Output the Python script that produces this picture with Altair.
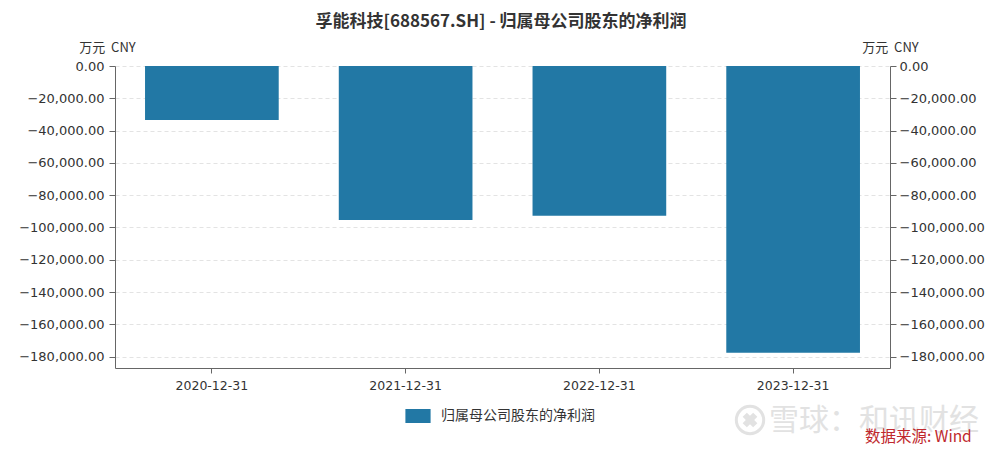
import altair as alt
import pandas as pd

dates = ["2020-12-31", "2021-12-31", "2022-12-31", "2023-12-31"]
values = [-33400, -95300, -92800, -177500]
series_name = "归属母公司股东的净利润"
title_text = "孚能科技[688567.SH] - 归属母公司股东的净利润"
unit_text = "万元\u00a0\u00a0CNY"
tick_values = [0, -20000, -40000, -60000, -80000, -100000, -120000, -140000, -160000, -180000]
watermark_text = "雪球：和讯财经"
source_text = "数据来源: Wind"

df = pd.DataFrame({"date": dates, "value": values, "series": [series_name] * len(dates)})

CJK = "Noto Sans CJK SC"
NUM = "DejaVu Sans"
ydomain = [-187000, 0]
yscale = alt.Scale(domain=ydomain, nice=False, zero=False)

xenc = alt.X("date:N", sort=dates, scale=alt.Scale(paddingInner=0.31, paddingOuter=0.155),
             axis=alt.Axis(title=None, labelAngle=0, labelFontSize=12.5, labelColor="#333",
                           labelFont=NUM, domainColor="#666", tickColor="#666", tickSize=5,
                           labelPadding=6, grid=False))

common_y = dict(titleAngle=0, titleY=-12, titleAlign="center", titleBaseline="bottom", titleFont=CJK,
                titleFontSize=13, titleFontWeight="normal", titleColor="#333", values=tick_values,
                format=",.2f", labelFontSize=13, labelColor="#333", labelFont=NUM,
                domainColor="#666", tickColor="#666", tickSize=6)

bars = alt.Chart(df).mark_bar(color="#2278a5").encode(
    x=xenc,
    y=alt.Y("value:Q", scale=yscale,
            axis=alt.Axis(title=unit_text, titleX=-8, grid=True, gridDash=[4, 3], gridColor="#e3e3e3",
                          labelPadding=5, **common_y)),
    color=alt.Color("series:N", scale=alt.Scale(range=["#2278a5"]),
                    legend=alt.Legend(title=None, orient="none", legendX=296, legendY=343,
                                      symbolType="M-1.8,-1H1.8V1H-1.8Z", symbolSize=196,
                                      labelOffset=16, labelFontSize=14, labelFont=CJK, labelColor="#333",
                                      symbolStrokeWidth=0)),
)

right = alt.Chart(df).mark_bar(opacity=0).encode(
    x=alt.X("date:N", sort=dates),
    y=alt.Y("value:Q", scale=yscale,
            axis=alt.Axis(orient="right", title=unit_text, titleX=0, grid=False, labelPadding=3,
                          **common_y)),
)

title = alt.Chart(pd.DataFrame({"t": [title_text]})).mark_text(
    font=CJK, fontSize=17, fontWeight="bold", color="#333", align="center", baseline="middle").encode(
    x=alt.value(386), y=alt.value(-44), text="t:N")

logo_ring = alt.Chart(pd.DataFrame({"k": [1]})).mark_point(
    shape="circle", size=750, filled=False, strokeWidth=3, color="#e2e2e2", opacity=1).encode(
    x=alt.value(635), y=alt.value(354))
logo_x = alt.Chart(pd.DataFrame({"k": [1]})).mark_point(
    shape="cross", size=220, filled=True, color="#e2e2e2", opacity=1, angle=45).encode(
    x=alt.value(635), y=alt.value(354))

wm = alt.Chart(pd.DataFrame({"t": [watermark_text]})).mark_text(
    font=CJK, fontSize=30, color="#e2e2e2", align="left", baseline="middle").encode(
    x=alt.value(654), y=alt.value(355), text="t:N")
src = alt.Chart(pd.DataFrame({"t": [source_text]})).mark_text(
    font=CJK, fontSize=15.5, color="#c0282d", align="left", baseline="middle").encode(
    x=alt.value(750), y=alt.value(371), text="t:N")

chart = alt.layer(bars, right, title, logo_ring, logo_x, wm, src).resolve_scale(y="independent").properties(
    width=775, height=302,
    autosize=alt.AutoSizeParams(type="none"),
    padding={"left": 107, "top": 58, "right": 106, "bottom": 80},
).configure_view(stroke=None).configure_axis(domainWidth=1)

chart.save("out.html", embed_options={"renderer": "svg", "actions": False})
